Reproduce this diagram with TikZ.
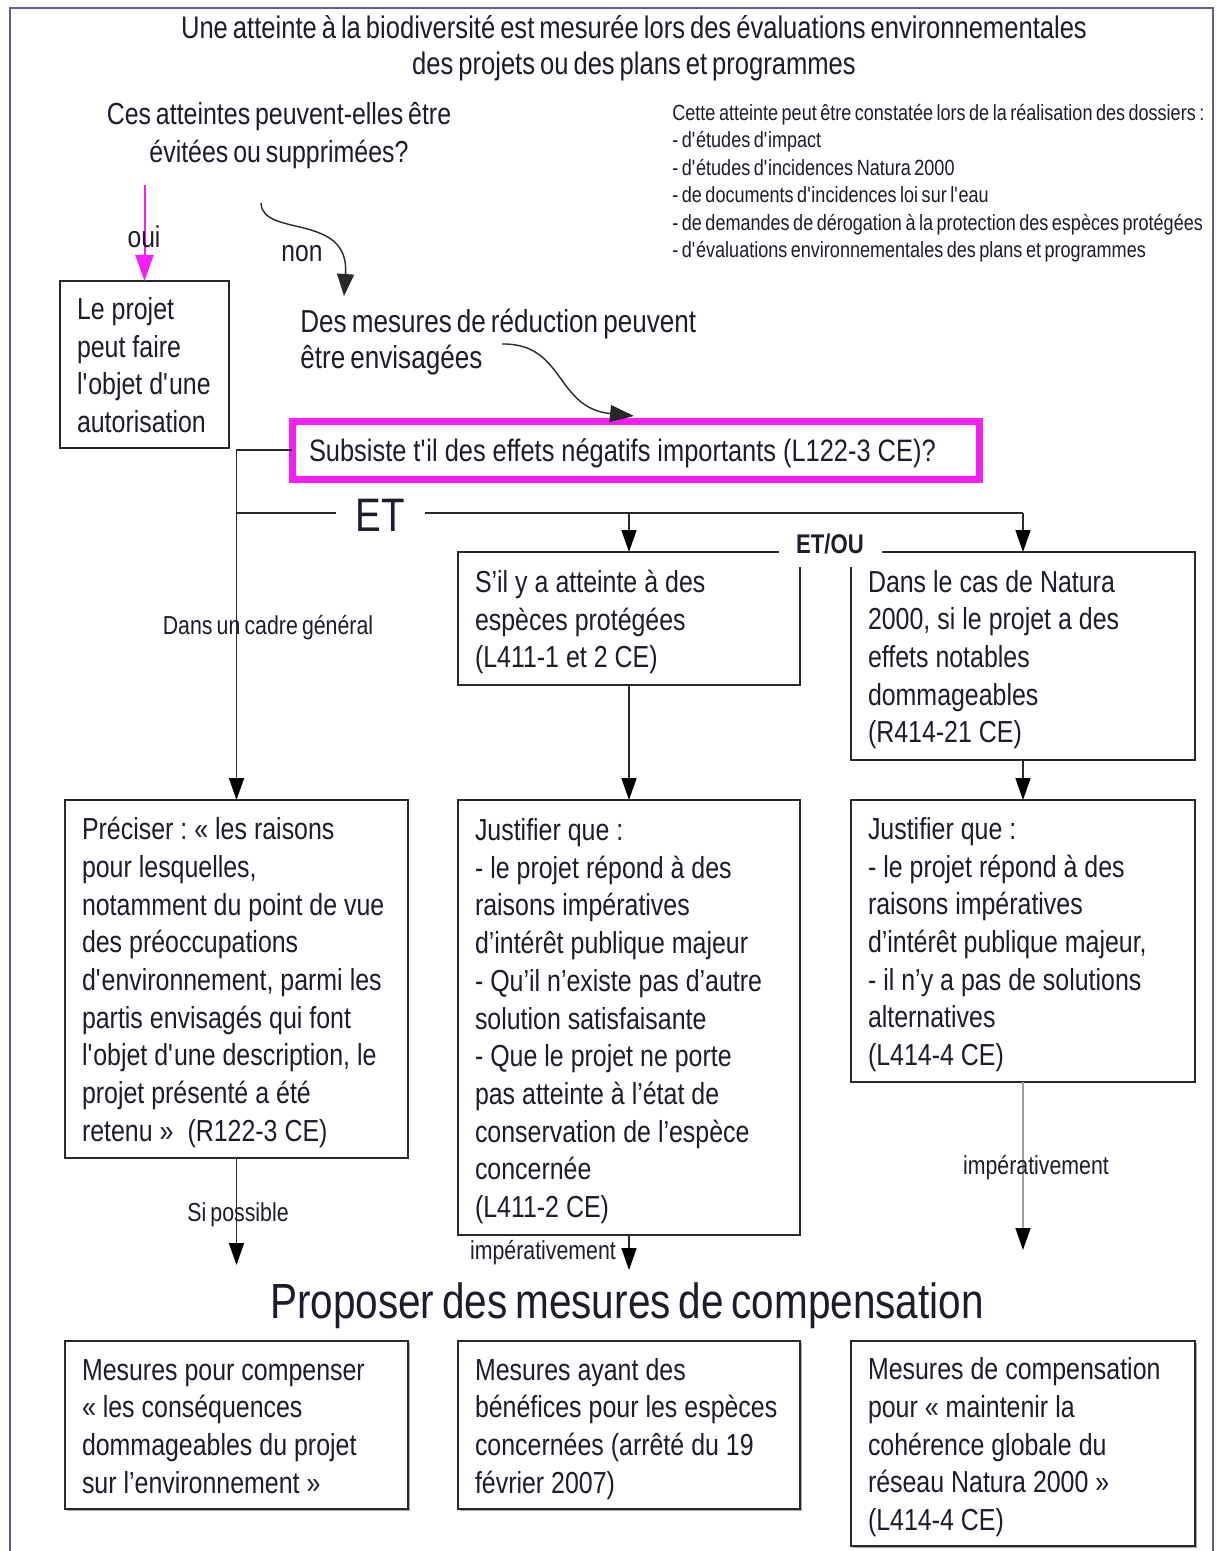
\documentclass[tikz,border=0pt]{standalone}
\usepackage{fontspec}
\setmainfont{Liberation Sans}[FakeStretch=0.82,WordSpace=0.7]
\usetikzlibrary{arrows.meta,shadows}
\definecolor{txt}{RGB}{28,28,45}
\definecolor{mag}{RGB}{245,30,245}
\definecolor{framecol}{RGB}{95,95,145}
\definecolor{boxcol}{RGB}{40,40,40}
\newcommand{\bodyf}{\fontsize{15.2}{18.85}\selectfont}
\newcommand{\sq}{\textquotesingle}
\newcommand{\tl}[1]{\noindent\spaceskip=3.5pt\xspaceskip=3.5pt\raisebox{-2pt}[\height][\depth]{\begin{tabular}{@{}l@{}}#1\end{tabular}}}
\tikzset{
  box/.style={draw=boxcol, line width=0.9pt, rectangle, anchor=north west,
    inner xsep=8.5pt, inner ysep=0pt, outer sep=0pt, align=left, font=\bodyf, text=txt},
  shbox/.style={box, fill=white, drop shadow={shadow xshift=1.2pt, shadow yshift=-1.2pt, fill=gray!70, opacity=1}},
  plain/.style={inner sep=0pt, text=txt},
  lbl/.style={inner sep=0pt, text=txt, font=\fontsize{13}{15}\selectfont},
  conn/.style={draw=boxcol, line width=0.8pt},
  arr/.style={conn, -{Triangle[length=11pt,width=7.5pt,color=black,fill=black]}},
}
\begin{document}
\begin{tikzpicture}[x=0.5pt,y=-0.5pt]
\useasboundingbox (0,0) rectangle (1216,1551);
\fill[white] (0,0) rectangle (1216,1551);
\draw[framecol, line width=1pt] (10,1560) -- (10,8) -- (1213,8) -- (1213,1560);

% title
\node[plain, align=center, font=\fontsize{15.6}{18}\selectfont] (title) at (634,48)
  {Une atteinte à la biodiversité est mesurée lors des évaluations environnementales\\des projets ou des plans et programmes};
\node[plain, align=center, font=\fontsize{15.2}{19}\selectfont] (q) at (279,136)
  {Ces atteintes peuvent-elles être\\évitées ou supprimées?};
\node[plain, align=left, anchor=west, font=\fontsize{11}{13.75}\selectfont] (list) at (672,183)
  {Cette atteinte peut être constatée lors de la réalisation des dossiers :\\- d\sq études d\sq impact\\- d\sq études d\sq incidences Natura 2000\\- de documents d\sq incidences loi sur l\sq eau\\- de demandes de dérogation à la protection des espèces protégées\\- d\sq évaluations environnementales des plans et programmes};

% oui / non
\node[box, minimum width=84.5pt, minimum height=83.5pt, text width=67.5pt] (A) at (60,281)
  {\tl{Le projet\\peut faire\\l\sq objet d\sq une\\autorisation}};
\coordinate (ouiS) at (144.5,185);
\draw[draw=mag, line width=1pt, -{Triangle[length=13pt,width=9pt]}, mag] (ouiS) -- (A.north);
\node[lbl, font=\fontsize{15}{18}\selectfont] (oui) at (144,237) {oui};

\node[plain, align=left, anchor=west, font=\fontsize{15.9}{18}\selectfont] (red) at (300,342)
  {Des mesures de réduction peuvent\\être envisagées};
\coordinate (nonS) at (261,203);
\coordinate (nonE) at (344,296);
\draw[conn, line width=0.7pt, -{Triangle[length=11pt,width=8.5pt]}] (nonS) .. controls (262,238) and (350,212) .. (nonE);
\node[lbl, font=\fontsize{15}{18}\selectfont] (non) at (302,254) {non};

% magenta question
\node[box, draw=mag, line width=3.5pt, minimum width=343.5pt, minimum height=29pt, text width=326.5pt, font=\fontsize{15.5}{18.85}\selectfont] (M) at (292,421)
  {\tl{Subsiste t\sq il des effets négatifs importants (L122-3 CE)?}};
\coordinate (redS) at (502,344);
\coordinate (redE) at (634,416);
\draw[conn, line width=0.7pt, -{Triangle[length=12pt,width=8.5pt]}] (redS) .. controls (565,343) and (555,408) .. (redE);

% boxes
\node[box, minimum width=171pt, minimum height=66.5pt, text width=154pt] (B1) at (458,552)
  {\tl{S’il y a atteinte à des\\espèces protégées\\(L411-1 et 2 CE)}};
\node[box, minimum width=172pt, minimum height=104pt, text width=155pt] (B2) at (851,552)
  {\tl{Dans le cas de Natura\\2000, si le projet a des\\effets notables\\dommageables\\(R414-21 CE)}};
\node[box, minimum width=171.5pt, minimum height=179pt, text width=154.5pt] (C1) at (65,800)
  {\tl{Préciser : « les raisons\\pour lesquelles,\\notamment du point de vue\\des préoccupations\\d\sq environnement, parmi les\\partis envisagés qui font\\l\sq objet d\sq une description, le\\projet présenté a été\\retenu »\ \ (R122-3 CE)}};
\node[box, minimum width=171pt, minimum height=217.5pt, text width=154pt] (C2) at (458,800)
  {\tl{Justifier que :\\- le projet répond à des\\raisons impératives\\d’intérêt publique majeur\\- Qu’il n’existe pas d’autre\\solution satisfaisante\\- Que le projet ne porte\\pas atteinte à l’état de\\conservation de l’espèce\\concernée\\(L411-2 CE)}};
\node[box, minimum width=172pt, minimum height=141pt, text width=155pt] (C3) at (851,800)
  {\tl{Justifier que :\\- le projet répond à des\\raisons impératives\\d’intérêt publique majeur,\\- il n’y a pas de solutions\\alternatives\\(L414-4 CE)}};
\node[shbox, minimum width=171.5pt, minimum height=84pt, text width=154.5pt] (D1) at (65,1341)
  {\tl{Mesures pour compenser\\« les conséquences\\dommageables du projet\\sur l’environnement »}};
\node[shbox, minimum width=171pt, minimum height=84pt, text width=154pt] (D2) at (458,1341)
  {\tl{Mesures ayant des\\bénéfices pour les espèces\\concernées (arrêté du 19\\février 2007)}};
\node[shbox, minimum width=172pt, minimum height=102.5pt, text width=155pt] (D3) at (851,1341)
  {\tl{Mesures de compensation\\pour « maintenir la\\cohérence globale du\\réseau Natura 2000 »\\(L414-4 CE)}};

% connectors
\draw[arr] (M.west) -| (C1.north);
\coordinate (et0) at (236.5,513);
\draw[conn] (et0) -- (B2.north |- et0);
\draw[arr] (B1.north |- et0) -- (B1.north);
\draw[arr] (B2.north |- et0) -- (B2.north);
\node[lbl, fill=white, minimum width=44.5pt, font=\fontsize{23.5}{26}\selectfont] (et) at (380,515) {ET};
\node[lbl, fill=white, minimum width=51.5pt, minimum height=23.5pt, font=\fontsize{13.5}{16}\selectfont\bfseries] (etou) at (830,543.5) {ET/OU};
\node[lbl] (cadre) at (268,628) {Dans un cadre général};
\draw[arr] (B1.south) -- (C2.north);
\draw[arr] (B2.south) -- (C3.north);

\coordinate (c1E) at (236.5,1265);
\draw[arr] (C1.south) -- (c1E);
\node[lbl] (sip) at (238,1215) {Si possible};
\coordinate (c2E) at (629,1270);
\draw[arr] (C2.south) -- (c2E);
\node[lbl] (imp1) at (543,1253) {impérativement};
\coordinate (c3E) at (1023,1250);
\draw[arr, draw=gray!75] (C3.south) -- (c3E);
\node[lbl] (imp2) at (1036,1168) {impérativement};

\node[plain, font=\fontsize{24.7}{28}\selectfont] (prop) at (627,1306) {Proposer des mesures de compensation};
\end{tikzpicture}
\end{document}
